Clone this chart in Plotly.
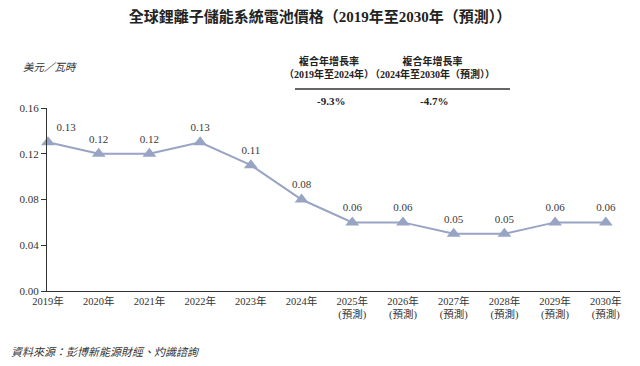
import plotly.graph_objects as go

years = ["2019年", "2020年", "2021年", "2022年", "2023年", "2024年",
         "2025年<br>(預測)", "2026年<br>(預測)", "2027年<br>(預測)",
         "2028年<br>(預測)", "2029年<br>(預測)", "2030年<br>(預測)"]
prices = [0.13, 0.12, 0.12, 0.13, 0.11, 0.08, 0.06, 0.06, 0.05, 0.05, 0.06, 0.06]
y_ticks = [0.00, 0.04, 0.08, 0.12, 0.16]
cagr_labels = ["複合年增長率<br>（2019年至2024年）", "複合年增長率<br>（2024年至2030年（預測））"]
cagr_values = ["-9.3%", "-4.7%"]

xs = list(range(len(years)))
serif = "Liberation Serif, Noto Sans CJK TC, serif"
cjk = "Liberation Serif, Noto Sans CJK TC"
line_color = "#98a4c4"

# page body has an 8px default margin; lay out in page coordinates minus 8
OFF = 8
W, H = 640 - OFF, 366 - OFF
L, R, T, B = 47 - OFF, 20, 108 - OFF, H - (291 - OFF)
PW, PH = W - L - R, H - T - B


def px(x):
    return (x - OFF - L) / PW


def py(y):
    return (H - B - (y - OFF)) / PH


fig = go.Figure()
fig.add_trace(go.Scatter(
    x=xs, y=prices, mode="lines+markers+text",
    line=dict(color=line_color, width=2),
    marker=dict(symbol="triangle-up", size=12, color=line_color),
    text=[f"{v:.2f}" for v in prices],
    textposition=["top right"] + ["top center"] * (len(xs) - 1),
    textfont=dict(family=serif, size=11, color="#3a3a3a"),
    cliponaxis=False, showlegend=False,
))

fig.update_layout(
    width=W, height=H,
    margin=dict(l=L, r=R, t=T, b=B),
    paper_bgcolor="white", plot_bgcolor="white",
    font=dict(family=cjk, color="#333333"),
    title=dict(text="<b>全球鋰離子儲能系統電池價格（2019年至2030年（預測））</b>",
               x=(320 - OFF) / W, xanchor="center", y=1 - (17 - OFF) / H, yanchor="middle",
               font=dict(family=cjk, size=15, color="#222222")),
    xaxis=dict(range=[-0.02, 11.28], tickvals=xs, ticktext=years,
               showgrid=False, zeroline=False, showline=True,
               linecolor="#333333", linewidth=1, ticks="",
               tickfont=dict(family=cjk, size=10.5, color="#333333")),
    yaxis=dict(range=[0, 0.16], tickvals=y_ticks,
               ticktext=[f"{v:.2f}" for v in y_ticks],
               showgrid=False, zeroline=False, showline=True,
               linecolor="#333333", linewidth=1, ticks="outside",
               ticklen=5, tickcolor="#333333",
               tickfont=dict(family=serif, size=11, color="#333333")),
)

# unit label
fig.add_annotation(text="<i>美元／瓦時</i>", xref="paper", yref="paper",
                   x=px(21), y=py(68), xanchor="left", yanchor="middle",
                   showarrow=False, font=dict(family=cjk, size=10.5, color="#333333"))

# CAGR box
cx = [329, 432]
for i in range(2):
    fig.add_annotation(text="<b>" + cagr_labels[i] + "</b>", xref="paper", yref="paper",
                       x=px(cx[i]), y=py(68),
                       xanchor="center", yanchor="middle", showarrow=False,
                       font=dict(family=cjk, size=10, color="#222222"))
    fig.add_annotation(text="<b>" + cagr_values[i] + "</b>", xref="paper", yref="paper",
                       x=px(cx[i] + 2), y=py(101),
                       xanchor="center", yanchor="middle", showarrow=False,
                       font=dict(family=serif, size=11, color="#222222"))
fig.add_shape(type="line", xref="paper", yref="paper",
              x0=px(295), x1=px(510), y0=py(89), y1=py(89),
              line=dict(color="#333333", width=1.5))

# source
fig.add_annotation(text="<i>資料來源：彭博新能源財經、灼識諮詢</i>", xref="paper", yref="paper",
                   x=px(9), y=py(352), xanchor="left", yanchor="middle",
                   showarrow=False, font=dict(family=cjk, size=11, color="#333333"))

fig.write_html("out.html")
